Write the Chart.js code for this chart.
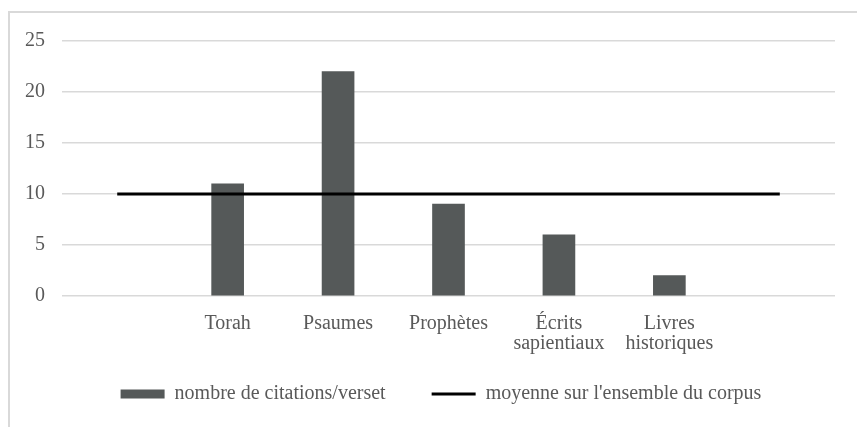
<!DOCTYPE html>
<html>
<head>
<meta charset="utf-8">
<script src="https://cdn.jsdelivr.net/npm/chart.js@4/dist/chart.umd.min.js"></script>
<style>
  html, body { margin: 0; padding: 0; background: #fff; overflow: hidden; }
  #frame {
    position: absolute; left: 8px; top: 11px;
    width: 900px; height: 440px;
    border-left: 2px solid #d9d9d9; border-top: 2px solid #d9d9d9;
  }
  #chart { position: absolute; left: 0; top: 0; }
</style>
</head>
<body>
<div id="frame"><canvas id="chart" width="862" height="414"></canvas></div>
<script>
// categories (first and last are empty, the average line spans them)
var categories = ['', 'Torah', 'Psaumes', 'Prophètes', ['Écrits', 'sapientiaux'], ['Livres', 'historiques'], '']
var citations = [null, 11, 22, 9, 6, 2, null]
var moyenne = [10, 10, 10, 10, 10, 10, 10]
var y_ticks = [0, 5, 10, 15, 20, 25]

var txt_color = '#595959'
var font = { family: "'Liberation Serif', 'Times New Roman', serif", size: 20, lineHeight: 1.0 }

// let the two-line category labels run below the (short) x axis box
var noClip = {
  id: 'noClip',
  beforeDraw: function (chart) {
    chart.scales.x._computeLabelArea = function () { return undefined }
  }
}

var chart_data = {
  labels: categories,
  datasets: [
    {
      type: 'line',
      label: "moyenne sur l'ensemble du corpus",
      data: moyenne,
      borderColor: '#000000',
      backgroundColor: '#000000',
      borderWidth: 3,
      pointRadius: 0,
      pointBorderWidth: 3,
      pointStyle: 'line'
    },
    {
      type: 'bar',
      label: 'nombre de citations/verset',
      data: citations,
      backgroundColor: '#555959',
      borderWidth: 0,
      barThickness: 32,
      pointStyle: 'rect'
    }
  ]
}

var chart_config = {
  data: chart_data,
  plugins: [noClip],
  options: {
    responsive: false,
    animation: false,
    layout: { padding: { top: 28, right: 0, bottom: 13, left: 0 } },
    plugins: {
      tooltip: { enabled: false },
      legend: {
        position: 'bottom',
        reverse: true,
        labels: {
          usePointStyle: true,
          pointStyleWidth: 44,
          boxHeight: 9,
          padding: 46,
          color: txt_color,
          font: font
        }
      }
    },
    scales: {
      x: {
        grid: { display: false },
        border: { display: false },
        ticks: { color: txt_color, font: font, padding: 10, maxRotation: 0, autoSkip: false },
        afterFit: function (scale) { scale.height = 42 }
      },
      y: {
        min: 0,
        max: 25,
        afterBuildTicks: function (scale) {
          scale.ticks = y_ticks.map(function (v) { return { value: v } })
        },
        afterFit: function (scale) { scale.width = 52 },
        grid: { color: '#d9d9d9', lineWidth: 1.5, drawTicks: false },
        border: { display: false },
        ticks: { color: txt_color, font: font, padding: 17 }
      },
      // empty spacer on the right so the plot stops short of the frame
      spacer: {
        type: 'linear',
        position: 'right',
        min: 0,
        max: 25,
        grid: { display: false },
        border: { display: false },
        ticks: { display: false },
        afterFit: function (scale) { scale.width = 37 }
      }
    }
  }
}

var chart = new Chart(document.getElementById('chart'), chart_config)
</script>
</body>
</html>
